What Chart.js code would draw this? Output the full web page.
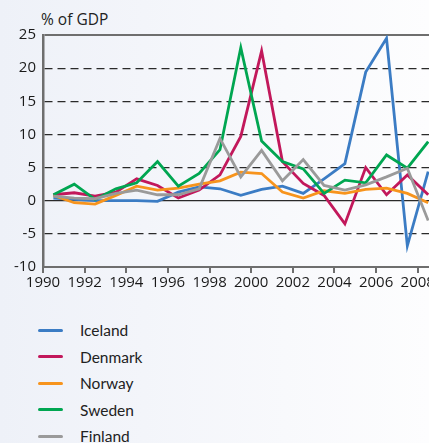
<!DOCTYPE html>
<html>
<head>
<meta charset="utf-8">
<script src="https://cdn.jsdelivr.net/npm/chart.js@4"></script>
<style>
  html, body { margin: 0; padding: 0; }
  body {
    width: 429px; height: 443px; overflow: hidden; position: relative;
    background: linear-gradient(to right, #eef1f8, #fdfdfe);
    font-family: "Open Sans", sans-serif;
  }
  #unit { position: absolute; left: 41px; top: 8px; font-size: 15.5px; color: #222; }
  #wrap { position: absolute; left: 0; top: 0; width: 429px; height: 293px; }
  #legend { position: absolute; left: 38px; top: 317px; font-family: Lato, sans-serif; font-size: 15.5px; color: #222; }
  .item { height: 26.5px; display: flex; align-items: center; }
  .sw { width: 25px; height: 3px; border-radius: 1.5px; margin-right: 17px; }
</style>
</head>
<body>
<div id="unit">% of GDP</div>
<div id="wrap"><canvas id="lineChart"></canvas></div>
<div id="legend"></div>
<script>
// anos (los puntos se dibujan a mitad de ano)
const years = [1990,1991,1992,1993,1994,1995,1996,1997,1998,1999,2000,2001,2002,2003,2004,2005,2006,2007,2008];

const iceland = [0.4,0.2,0.0,0.0,0.0,-0.1,1.3,2.1,1.8,0.8,1.7,2.2,1.1,3.3,5.6,19.4,24.5,-6.8,4.4];
const denmark = [0.9,1.2,0.7,1.3,3.3,2.3,0.4,1.6,3.9,9.7,22.6,5.9,2.6,0.8,-3.5,5.0,0.9,3.9,0.9];
const norway  = [0.8,-0.3,-0.5,0.8,2.2,1.6,1.9,2.5,3.0,4.3,4.1,1.3,0.4,1.5,1.1,1.7,1.9,1.1,-0.3];
const sweden  = [0.9,2.5,0.2,1.8,2.7,5.9,2.2,4.1,7.7,23.1,9.0,5.9,4.8,1.1,3.1,2.7,6.9,4.9,8.9];
const finland = [0.7,0.4,0.3,1.1,1.6,0.9,0.9,1.8,9.4,3.6,7.6,3.0,6.2,2.3,1.6,2.4,3.6,4.9,-3.0];

const yTicks = [-10,-5,0,5,10,15,20,25];
const xTicks = years.filter(y => y % 2 === 0);

const countries = ["Iceland","Denmark","Norway","Sweden","Finland"];
const colors = ["#3b7cc4","#c2185b","#f7941d","#00a651","#9a9a9a"];
const series = [iceland, denmark, norway, sweden, finland];

const toPoints = vals => vals.map((v,i) => ({x: years[i] + 0.5, y: v}));

const datasets = series.map((vals,i) => ({
    label: countries[i],
    data: toPoints(vals),
    borderColor: colors[i],
    backgroundColor: colors[i],
    borderWidth: 2.8,
    pointRadius: 0,
    tension: 0
}));

// el orden de dibujo: finland abajo, iceland arriba
datasets.reverse();

const font = {family: "'Open Sans', sans-serif", size: 15};

new Chart("lineChart", {
    type: "line",
    data: {datasets},
    options: {
        responsive: true,
        maintainAspectRatio: false,
        animation: false,
        layout: {padding: {top: 35, left: 0, right: 0, bottom: 0}},
        plugins: {legend: {display: false}, tooltip: {enabled: false}},
        scales: {
            x: {
                type: "linear",
                min: 1990,
                max: 2008.54,
                afterBuildTicks: s => { s.ticks = xTicks.map(v => ({value: v})); },
                afterFit: s => { s.paddingLeft = 0; s.paddingRight = 0; },
                ticks: {color: "#1a1a1a", font, padding: 1, maxRotation: 0, autoSkip: false,
                        callback: v => String(v)},
                grid: {drawOnChartArea: false, drawTicks: true, tickLength: 6, color: "#6e6e6e", lineWidth: 2},
                border: {color: "#6e6e6e", width: 2}
            },
            y: {
                min: -10,
                max: 25,
                afterBuildTicks: s => { s.ticks = yTicks.map(v => ({value: v})); },
                afterFit: s => { s.width = 43; },
                ticks: {color: "#1a1a1a", font, padding: 7},
                grid: {
                    drawTicks: false,
                    color: c => c.tick.value === -10 ? "transparent" : (c.tick.value === 25 ? "#6e6e6e" : "#2a2a2a"),
                    lineWidth: c => c.tick.value === 25 ? 2 : 1.2
                },
                border: {
                    color: "#6e6e6e", width: 2.5,
                    dash: c => (c.tick && (c.tick.value === 0 || c.tick.value === 25)) ? [] : [8,5]
                }
            }
        }
    }
});

// leyenda en html
const legend = document.getElementById("legend");
countries.forEach((name,i) => {
    const item = document.createElement("div");
    item.className = "item";
    item.innerHTML = `<span class="sw" style="background:${colors[i]}"></span><span>${name}</span>`;
    legend.appendChild(item);
});
</script>
</body>
</html>
